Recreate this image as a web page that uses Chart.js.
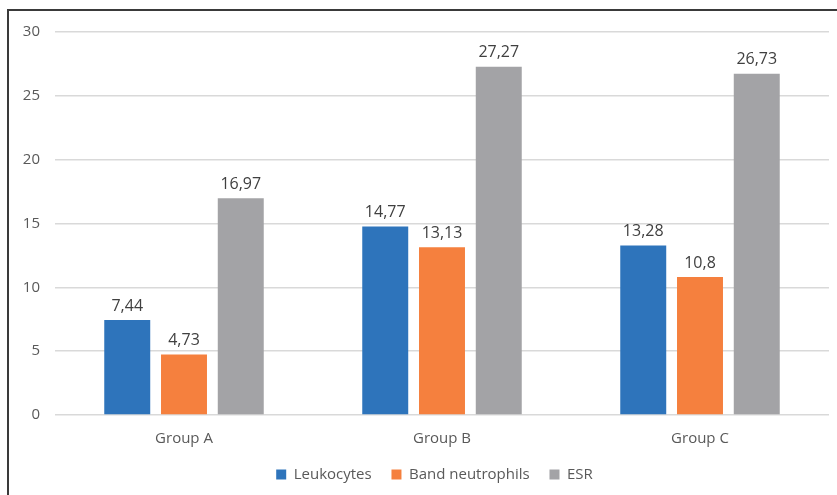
<!DOCTYPE html>
<html>
<head>
<meta charset="utf-8">
<script src="https://cdn.jsdelivr.net/npm/chart.js@4/dist/chart.umd.min.js"></script>
<style>
  html, body { margin: 0; padding: 0; background: #fff; }
  #wrap { position: relative; width: 837px; height: 495px; }
  #frame { position: absolute; left: 7px; top: 9px; right: -5px; bottom: -5px; border-left: 2px solid #3a3a3a; border-top: 2px solid #3a3a3a; pointer-events: none; }
  canvas { position: absolute; left: 0; top: 0; }
</style>
</head>
<body>
<div id="wrap">
  <canvas id="c" width="837" height="495"></canvas>
  <div id="frame"></div>
</div>
<script>
const categories = ["Group A", "Group B", "Group C"];
const leukocytes = [7.44, 14.77, 13.28];
const bandNeutrophils = [4.73, 13.13, 10.8];
const esr = [16.97, 27.27, 26.73];
const seriesNames = ["Leukocytes", "Band neutrophils", "ESR"];
const yTicks = [0, 5, 10, 15, 20, 25, 30];

const FONT = "'Open Sans', 'DejaVu Sans', sans-serif";

const labelPlugin = {
  id: 'barLabels',
  afterDatasetsDraw(chart) {
    const ctx = chart.ctx;
    ctx.save();
    ctx.font = "16px " + FONT;
    ctx.fillStyle = '#404040';
    ctx.textAlign = 'center';
    ctx.textBaseline = 'bottom';
    chart.data.datasets.forEach((ds, i) => {
      const meta = chart.getDatasetMeta(i);
      meta.data.forEach((bar, j) => {
        const txt = String(ds.data[j]).replace('.', ',');
        ctx.fillText(txt, bar.x, bar.y - 6);
      });
    });
    ctx.restore();
  }
};

const legendShift = {
  id: 'legendShift',
  afterLayout(chart) {
    if (chart.legend) { chart.legend.left += 20; chart.legend.right += 20; }
  }
};

new Chart(document.getElementById('c'), {
  type: 'bar',
  data: {
    labels: categories,
    datasets: [
      { label: seriesNames[0], data: leukocytes, backgroundColor: '#2e74bb' },
      { label: seriesNames[1], data: bandNeutrophils, backgroundColor: '#f5803e' },
      { label: seriesNames[2], data: esr, backgroundColor: '#a3a3a6' }
    ]
  },
  options: {
    responsive: false,
    animation: false,
    layout: { padding: { top: 32, right: 8, bottom: 3, left: 0 } },
    datasets: { bar: { categoryPercentage: 0.66, barPercentage: 0.81 } },
    plugins: {
      legend: {
        position: 'bottom',
        labels: {
          font: { family: FONT, size: 15 },
          color: '#595959',
          boxWidth: 10,
          boxHeight: 10,
          padding: 12,
          generateLabels(chart) {
            const items = Chart.defaults.plugins.legend.labels.generateLabels(chart);
            items.forEach((it, i) => { if (i < items.length - 1) it.text = it.text + '  '; });
            return items;
          }
        }
      },
      tooltip: { enabled: false }
    },
    scales: {
      x: {
        grid: { display: false },
        border: { display: false },
        ticks: { font: { family: FONT, size: 15 }, color: '#595959', padding: 7 }
      },
      y: {
        min: 0, max: 30,
        afterBuildTicks(scale) { scale.ticks = yTicks.map(v => ({ value: v })); },
        afterFit(scale) { scale.width = 55; },
        grid: { color: '#d9d9d9', lineWidth: 1.5, drawTicks: false },
        border: { display: false },
        ticks: { font: { family: FONT, size: 15 }, color: '#595959', padding: 15 }
      }
    }
  },
  plugins: [labelPlugin, legendShift]
});
</script>
</body>
</html>
